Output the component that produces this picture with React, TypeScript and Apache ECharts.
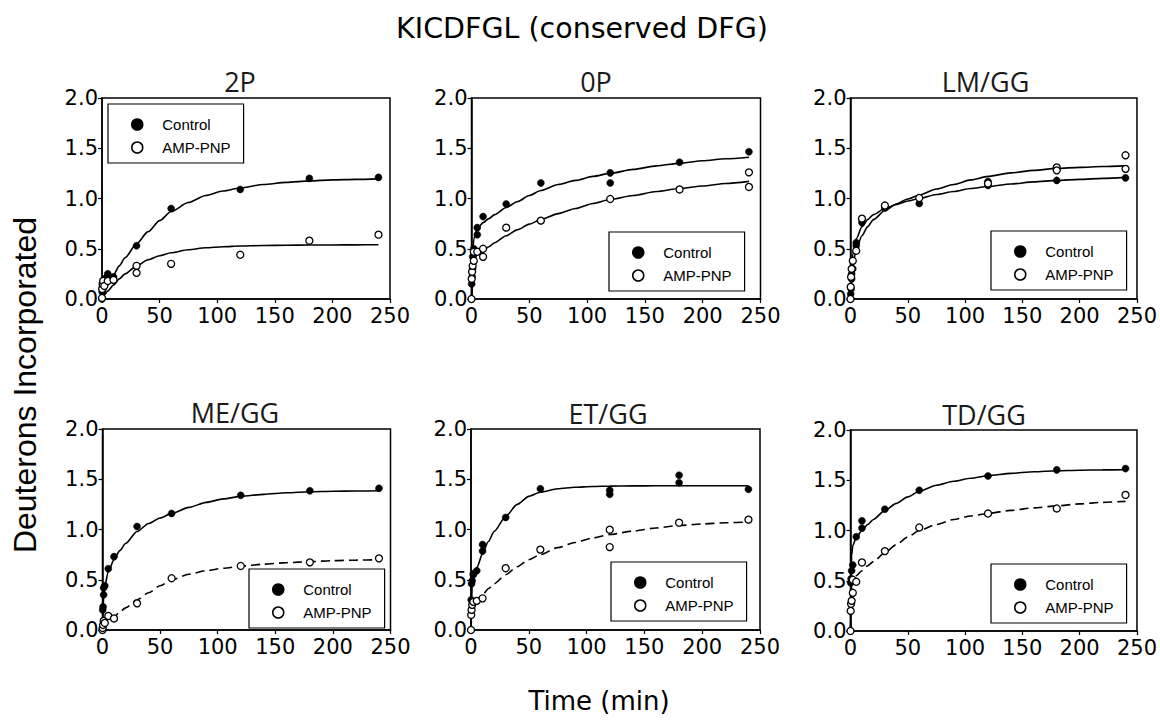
import React, { useEffect, useRef } from 'react';
import * as echarts from 'echarts';

// ---------- data ----------
const mainTitle = 'KICDFGL (conserved DFG)';
const xAxisTitle = 'Time (min)';
const yAxisTitle = 'Deuterons Incorporated';
const panelNames = ['2P', '0P', 'LM/GG', 'ME/GG', 'ET/GG', 'TD/GG'];
const seriesNames = ['Control', 'AMP-PNP'];
const xTicks = [0, 50, 100, 150, 200, 250];
const yTicks = [0, 0.5, 1.0, 1.5, 2.0];

// measured points [time (min), deuterons]
const ctrl2P = [[0, 0], [0.17, 0.07], [0.5, 0.12], [1, 0.17], [2, 0.2], [5, 0.25], [5, 0.23], [10, 0.22], [30, 0.53], [60, 0.9], [120, 1.09], [180, 1.2], [240, 1.21]];
const amp2P = [[0, 0.01], [0.17, 0.1], [0.5, 0.15], [1, 0.18], [2, 0.13], [5, 0.18], [10, 0.19], [30, 0.33], [30, 0.26], [60, 0.35], [120, 0.44], [180, 0.58], [240, 0.64]];
const ctrl0P = [[0, 0], [0.17, 0.15], [0.5, 0.22], [1, 0.3], [1, 0.42], [2, 0.5], [5, 0.64], [5, 0.71], [10, 0.82], [30, 0.945], [60, 1.155], [120, 1.255], [120, 1.155], [180, 1.36], [240, 1.465]];
const amp0P = [[0, 0], [0.17, 0.2], [0.5, 0.27], [1, 0.33], [2, 0.38], [2, 0.47], [5, 0.47], [10, 0.5], [10, 0.42], [30, 0.71], [60, 0.78], [120, 0.995], [180, 1.09], [240, 1.26], [240, 1.115]];
const ctrlLM = [[0, 0], [0.17, 0.05], [0.5, 0.1], [1, 0.2], [1, 0.25], [2, 0.3], [5, 0.53], [5, 0.56], [10, 0.76], [30, 0.905], [60, 0.95], [120, 1.13], [120, 1.17], [180, 1.18], [240, 1.205]];
const ampLM = [[0, 0], [0.17, 0.12], [0.5, 0.22], [1, 0.3], [2, 0.38], [5, 0.48], [10, 0.8], [30, 0.93], [60, 1.005], [120, 1.15], [180, 1.31], [180, 1.28], [240, 1.43], [240, 1.295]];
const ctrlME = [[0, 0], [0.17, 0.2], [0.5, 0.23], [1, 0.35], [1, 0.42], [2, 0.44], [5, 0.61], [10, 0.73], [30, 1.03], [60, 1.16], [120, 1.34], [180, 1.385], [240, 1.41]];
const ampME = [[0, 0], [0.17, 0.02], [0.5, 0.05], [1, 0.09], [2, 0.07], [5, 0.14], [10, 0.115], [30, 0.265], [60, 0.515], [120, 0.637], [180, 0.673], [240, 0.713]];
const ctrlET = [[0, 0], [0.17, 0.3], [0.5, 0.46], [1, 0.49], [2, 0.55], [2, 0.56], [5, 0.59], [10, 0.85], [10, 0.785], [30, 1.12], [60, 1.405], [120, 1.39], [120, 1.35], [180, 1.54], [180, 1.465], [240, 1.4]];
const ampET = [[0, 0], [0.17, 0.15], [0.5, 0.2], [1, 0.25], [2, 0.28], [5, 0.29], [10, 0.315], [30, 0.615], [60, 0.8], [120, 0.998], [120, 0.825], [180, 1.068], [240, 1.098]];
const ctrlTD = [[0, 0], [0.17, 0.48], [0.5, 0.52], [1, 0.6], [2, 0.656], [5, 0.937], [10, 1.096], [10, 1.023], [30, 1.212], [60, 1.4], [120, 1.543], [180, 1.603], [240, 1.616]];
const ampTD = [[0, 0], [0.17, 0.2], [0.5, 0.27], [1, 0.3], [2, 0.38], [2, 0.51], [5, 0.49], [10, 0.682], [30, 0.795], [60, 1.03], [120, 1.169], [180, 1.219], [240, 1.354]];

// fitted curves at these times
const fitTimes = [0, 0.5, 1, 2, 5, 10, 15, 20, 30, 40, 50, 60, 75, 90, 105, 120, 140, 160, 180, 200, 220, 240];
const ctrlFit2P = [0.02, 0.03, 0.04, 0.06, 0.14, 0.24, 0.33, 0.41, 0.55, 0.67, 0.78, 0.87, 0.96, 1.03, 1.075, 1.105, 1.14, 1.16, 1.175, 1.185, 1.19, 1.195];
const ampFit2P = [0.02, 0.025, 0.03, 0.04, 0.08, 0.14, 0.2, 0.25, 0.33, 0.39, 0.43, 0.46, 0.49, 0.51, 0.52, 0.527, 0.532, 0.535, 0.537, 0.538, 0.539, 0.54];
const ctrlFit0P = [0, 0.3, 0.45, 0.6, 0.7, 0.76, 0.8, 0.84, 0.91, 0.97, 1.03, 1.08, 1.14, 1.18, 1.22, 1.25, 1.29, 1.325, 1.35, 1.375, 1.395, 1.41];
const ampFit0P = [0, 0.2, 0.3, 0.38, 0.44, 0.48, 0.52, 0.56, 0.63, 0.69, 0.745, 0.79, 0.85, 0.9, 0.95, 0.99, 1.03, 1.07, 1.1, 1.125, 1.15, 1.17];
const ctrlFitLM = [0, 0.2, 0.33, 0.45, 0.6, 0.72, 0.79, 0.84, 0.9, 0.94, 0.975, 1.0, 1.04, 1.07, 1.1, 1.12, 1.145, 1.165, 1.18, 1.19, 1.2, 1.21];
const ampFitLM = [0, 0.12, 0.22, 0.33, 0.5, 0.63, 0.72, 0.79, 0.88, 0.945, 0.995, 1.035, 1.095, 1.14, 1.185, 1.22, 1.255, 1.28, 1.3, 1.31, 1.318, 1.325];
const ctrlFitME = [0, 0.22, 0.33, 0.44, 0.58, 0.7, 0.79, 0.86, 0.98, 1.06, 1.115, 1.16, 1.22, 1.27, 1.305, 1.33, 1.35, 1.365, 1.375, 1.38, 1.383, 1.385];
const ampFitME = [0, 0.01, 0.02, 0.03, 0.07, 0.13, 0.18, 0.22, 0.3, 0.37, 0.44, 0.5, 0.555, 0.59, 0.615, 0.635, 0.655, 0.67, 0.68, 0.69, 0.695, 0.7];
const ctrlFitET = [0, 0.3, 0.42, 0.52, 0.62, 0.76, 0.88, 0.98, 1.13, 1.25, 1.33, 1.37, 1.405, 1.42, 1.428, 1.432, 1.434, 1.435, 1.435, 1.435, 1.435, 1.435];
const ampFitET = [0, 0.12, 0.2, 0.26, 0.3, 0.35, 0.41, 0.46, 0.55, 0.63, 0.7, 0.75, 0.82, 0.87, 0.915, 0.95, 0.985, 1.015, 1.04, 1.055, 1.067, 1.075];
const ctrlFitTD = [0, 0.6, 0.75, 0.85, 0.93, 1.0, 1.06, 1.11, 1.2, 1.27, 1.335, 1.39, 1.45, 1.49, 1.52, 1.545, 1.568, 1.585, 1.595, 1.6, 1.603, 1.605];
const ampFitTD = [0, 0.35, 0.45, 0.5, 0.55, 0.6, 0.65, 0.69, 0.78, 0.86, 0.935, 1.0, 1.06, 1.11, 1.145, 1.17, 1.2, 1.225, 1.245, 1.265, 1.28, 1.29];

const ctrlPoints = [ctrl2P, ctrl0P, ctrlLM, ctrlME, ctrlET, ctrlTD];
const ampPoints = [amp2P, amp0P, ampLM, ampME, ampET, ampTD];
const ctrlFits = [ctrlFit2P, ctrlFit0P, ctrlFitLM, ctrlFitME, ctrlFitET, ctrlFitTD];
const ampFits = [ampFit2P, ampFit0P, ampFitLM, ampFitME, ampFitET, ampFitTD];

// ---------- layout ----------
const grids = [
  { left: 102, top: 98, width: 288, height: 201 },
  { left: 471.5, top: 98, width: 289, height: 201 },
  { left: 850.5, top: 98, width: 288, height: 201 },
  { left: 102.5, top: 429, width: 288, height: 201 },
  { left: 471, top: 429, width: 289, height: 201 },
  { left: 850.5, top: 430, width: 288, height: 201 },
];
const titlePos = [
  { x: 240, y: 68 }, { x: 596, y: 68 }, { x: 985.5, y: 68 },
  { x: 235, y: 399 }, { x: 608, y: 400 }, { x: 984, y: 401 },
];
const legendPos = [
  { x: 108, y: 104 }, { x: 609, y: 232 }, { x: 991, y: 231 },
  { x: 249, y: 569 }, { x: 611, y: 562 }, { x: 991, y: 564 },
];
const ampDashed = [false, false, false, true, true, true];

export default function App() {
  const ref = useRef<HTMLDivElement>(null);
  useEffect(() => {
    if (!ref.current) return;
    const chart = echarts.init(ref.current, null, { renderer: 'svg' });
    const tickFont = { fontFamily: 'DejaVu Sans', fontSize: 21, color: '#000' };
    const option: any = {
      animation: false,
      backgroundColor: '#fff',
      title: [
        {
          text: mainTitle, left: 582, top: 14, textAlign: 'center', padding: 0,
          textStyle: { fontFamily: 'DejaVu Sans', fontSize: 28.5, fontWeight: 'normal', color: '#000' },
        },
        ...panelNames.map((n, i) => ({
          text: n, left: titlePos[i].x, top: titlePos[i].y, textAlign: 'center', padding: 0,
          textStyle: { fontFamily: 'Open Sans', fontSize: 27, fontWeight: 'normal', color: '#1a1a1a' },
        })),
      ],
      grid: grids.map((g) => ({ ...g, show: true, borderColor: '#000', borderWidth: 1.5, backgroundColor: 'transparent' })),
      legend: legendPos.map((p) => ({
        left: p.x, top: p.y, orient: 'vertical',
        data: seriesNames.map((n) => ({ name: n, icon: 'circle' })),
        itemWidth: 40, itemHeight: 11, itemGap: 8,
        padding: [13, 13, 8, 23],
        borderColor: '#000', borderWidth: 1.2, backgroundColor: '#fff',
        selectedMode: false,
        itemStyle: { borderWidth: 1.5 },
        textStyle: { fontFamily: 'Liberation Sans', fontSize: 15, color: '#000' },
      })),
      xAxis: grids.map((_, i) => ({
        type: 'value', gridIndex: i, min: xTicks[0], max: xTicks[xTicks.length - 1], interval: 50,
        axisLine: { show: true, onZero: false, lineStyle: { color: '#000', width: 1.5 } },
        axisTick: { show: true, inside: false, length: 4, lineStyle: { color: '#000', width: 1.2 } },
        axisLabel: { ...tickFont, margin: 6 },
        splitLine: { show: false },
      })),
      yAxis: grids.map((_, i) => ({
        type: 'value', gridIndex: i, min: yTicks[0], max: yTicks[yTicks.length - 1], interval: 0.5,
        axisLine: { show: true, onZero: false, lineStyle: { color: '#000', width: 1.5 } },
        axisTick: { show: true, inside: false, length: 4, lineStyle: { color: '#000', width: 1.2 } },
        axisLabel: { ...tickFont, margin: 4, formatter: (v: number) => v.toFixed(1) },
        splitLine: { show: false },
      })),
      series: [] as any[],
      graphic: [
        {
          type: 'text', x: 25, y: 385, rotation: Math.PI / 2,
          style: { text: yAxisTitle, fontFamily: 'Liberation Sans', fontSize: 32, fill: '#000', align: 'center', verticalAlign: 'middle' },
        },
        {
          type: 'text', x: 599, y: 701,
          style: { text: xAxisTitle, fontFamily: 'DejaVu Sans', fontSize: 26, fill: '#000', align: 'center', verticalAlign: 'middle' },
        },
      ],
    };
    panelNames.forEach((_, i) => {
      option.series.push({
        type: 'line', name: 'Control fit', xAxisIndex: i, yAxisIndex: i,
        data: fitTimes.map((t, k) => [t, ctrlFits[i][k]]),
        showSymbol: false, smooth: 0.25, smoothMonotone: 'x', silent: true, z: 2,
        lineStyle: { color: '#000', width: 1.6 },
      });
      option.series.push({
        type: 'line', name: 'AMP-PNP fit', xAxisIndex: i, yAxisIndex: i,
        data: fitTimes.map((t, k) => [t, ampFits[i][k]]),
        showSymbol: false, smooth: 0.25, smoothMonotone: 'x', silent: true, z: 2,
        lineStyle: { color: '#000', width: 1.6, type: ampDashed[i] ? [9, 5] : 'solid' },
      });
      option.series.push({
        type: 'scatter', name: seriesNames[0], xAxisIndex: i, yAxisIndex: i,
        data: ctrlPoints[i], symbol: 'circle', symbolSize: 7, z: 3,
        itemStyle: { color: '#000', borderColor: '#000', borderWidth: 0.5, opacity: 1 },
      });
      option.series.push({
        type: 'scatter', name: seriesNames[1], xAxisIndex: i, yAxisIndex: i,
        data: ampPoints[i], symbol: 'circle', symbolSize: 7, z: 3,
        itemStyle: { color: '#fff', borderColor: '#000', borderWidth: 1.3, opacity: 1 },
      });
    });
    chart.setOption(option);
    return () => chart.dispose();
  }, []);
  return <div ref={ref} style={{ position: 'absolute', left: 0, top: 0, width: 1160, height: 723 }} />;
}
